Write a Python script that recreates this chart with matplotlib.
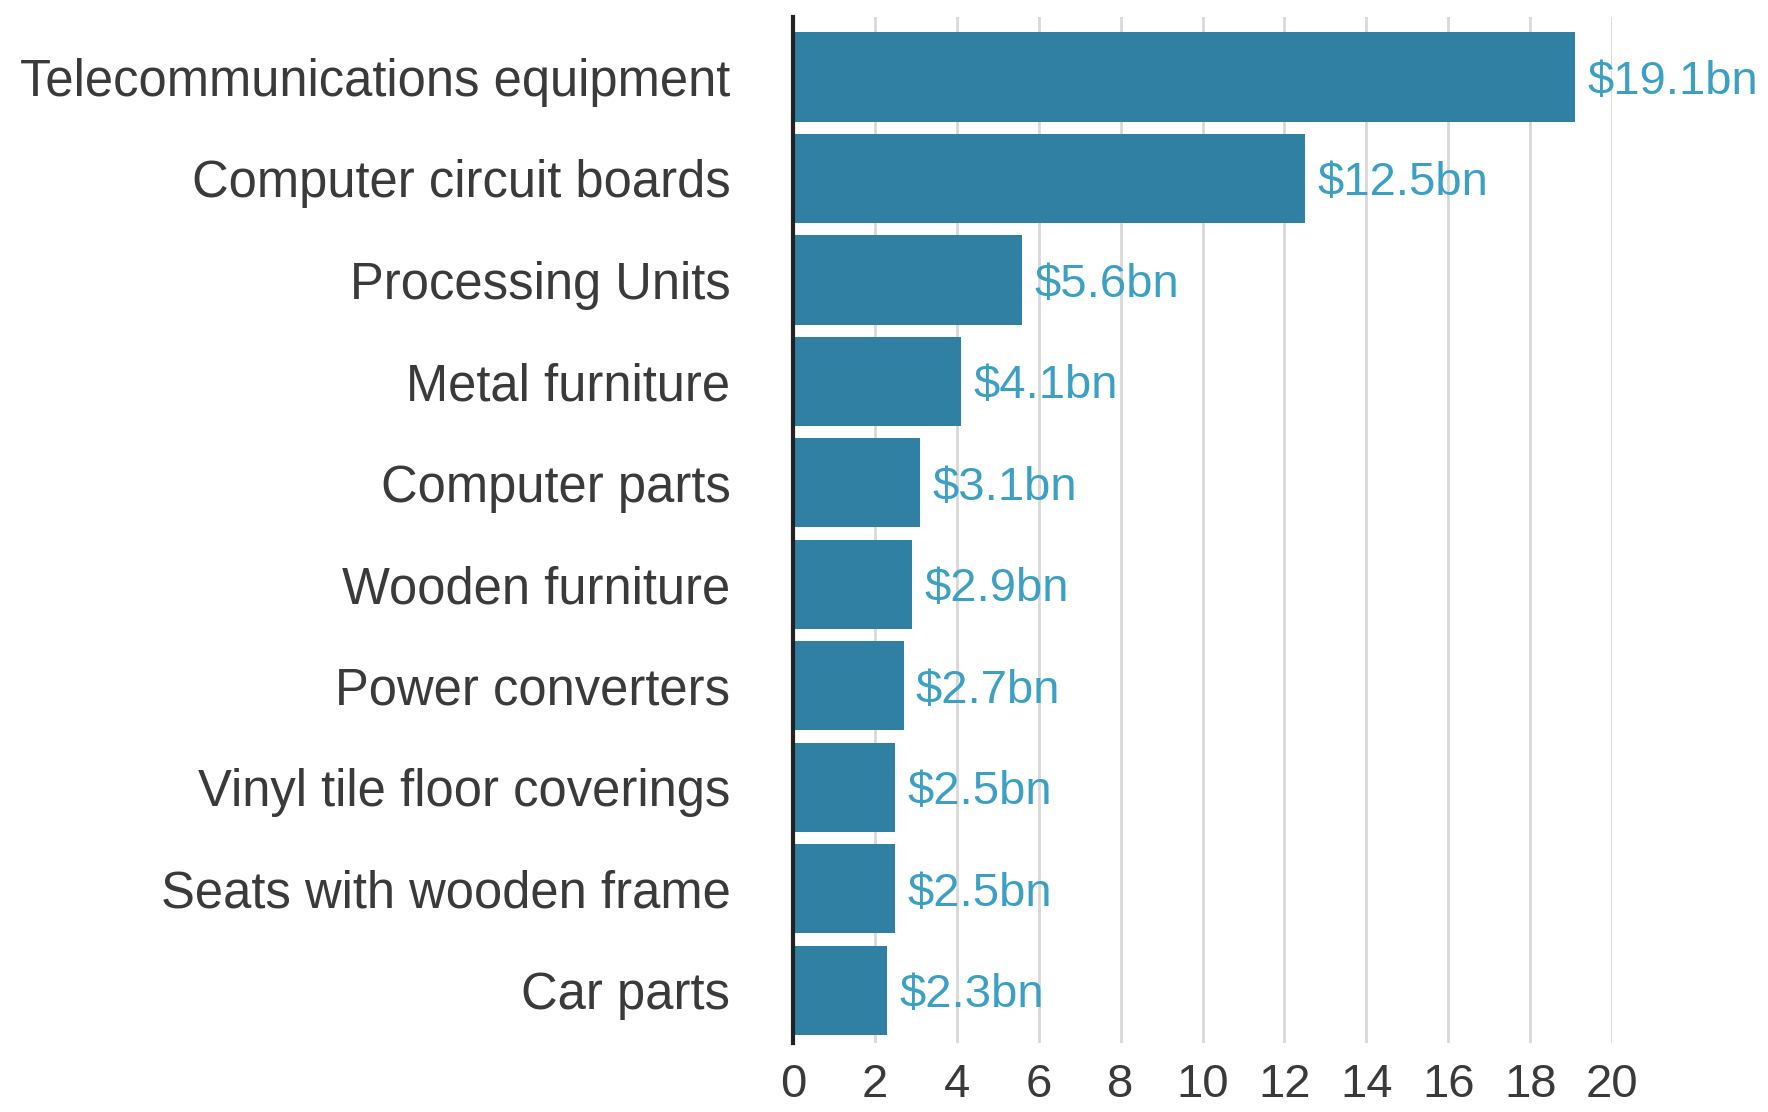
import matplotlib.pyplot as plt

categories = ['Telecommunications equipment', 'Computer circuit boards', 'Processing Units',
              'Metal furniture', 'Computer parts', 'Wooden furniture', 'Power converters',
              'Vinyl tile floor coverings', 'Seats with wooden frame', 'Car parts']
values = [19.1, 12.5, 5.6, 4.1, 3.1, 2.9, 2.7, 2.5, 2.5, 2.3]
value_labels = ['$19.1bn', '$12.5bn', '$5.6bn', '$4.1bn', '$3.1bn',
                '$2.9bn', '$2.7bn', '$2.5bn', '$2.5bn', '$2.3bn']
xticks = [0, 2, 4, 6, 8, 10, 12, 14, 16, 18, 20]

plt.rcParams['font.family'] = ['Liberation Sans', 'DejaVu Sans']

fig = plt.figure(figsize=(17.68, 11.12), dpi=100)
ax = fig.add_axes([0.4485, 0.062, 0.9118 - 0.4485, 0.9847 - 0.062])

y = list(range(len(categories)))
ax.barh(y, values, height=0.88, color='#2f80a2', zorder=2)

for yi, v, lab in zip(y, values, value_labels):
    ax.text(v + 0.3, yi, lab, va='center_baseline', ha='left', fontsize=34,
            color='#3c9fc4', clip_on=False)

ax.set_ylim(9.52, -0.59)
ax.set_xlim(0, 20)
ax.set_yticks(y)
ax.set_yticklabels(categories, fontsize=36.5, color='#3a3a3a')
ax.set_xticks(xticks)
ax.set_xticklabels([str(t) for t in xticks], fontsize=34, color='#3a3a3a')
ax.tick_params(axis='both', length=0)
ax.tick_params(axis='y', pad=45)
ax.tick_params(axis='x', pad=14)

ax.grid(axis='x', color='#d8d8d8', linewidth=2, zorder=0)
for s in ['top', 'right', 'bottom']:
    ax.spines[s].set_visible(False)
ax.spines['left'].set_color('#222222')
ax.spines['left'].set_linewidth(3)
ax.spines['left'].set_zorder(3)

fig.savefig('out.png', dpi=100)
